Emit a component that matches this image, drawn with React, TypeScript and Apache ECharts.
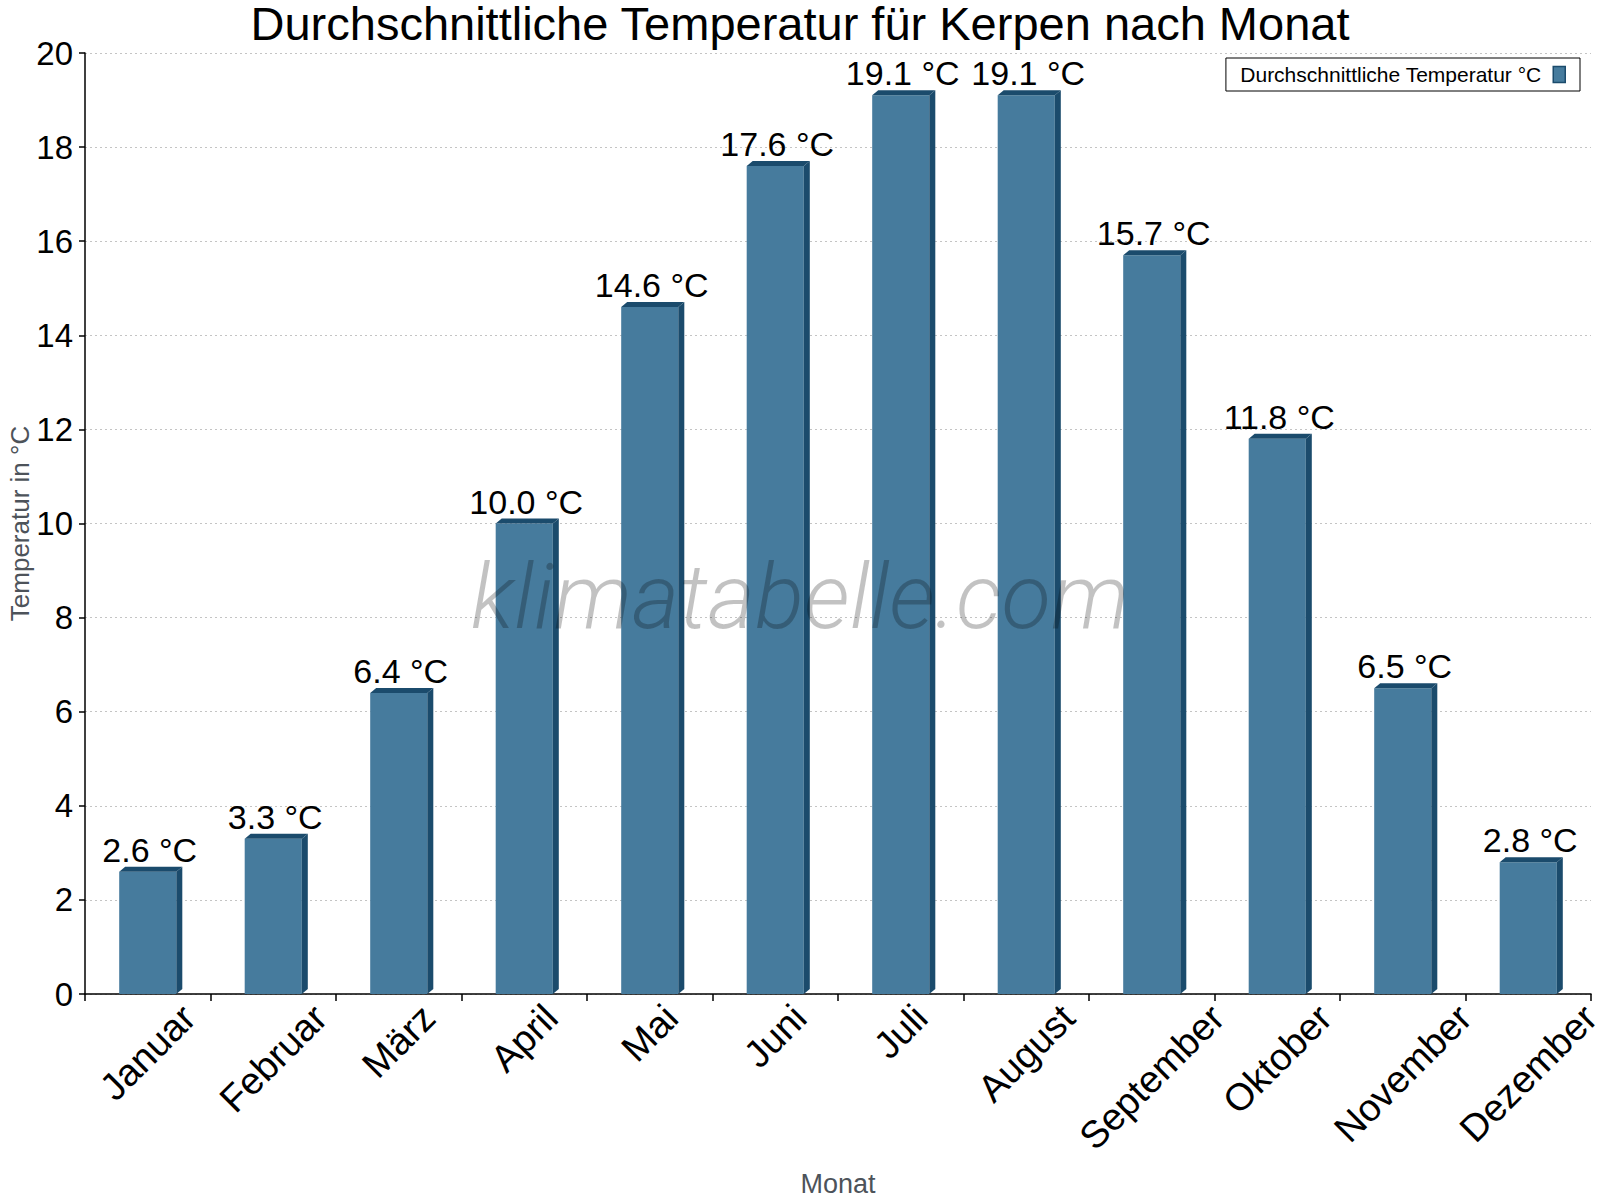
import { useEffect, useRef } from "react";
import * as echarts from "echarts";

const months = [
  "Januar", "Februar", "März", "April", "Mai", "Juni",
  "Juli", "August", "September", "Oktober", "November", "Dezember",
];
const temps = [2.6, 3.3, 6.4, 10.0, 14.6, 17.6, 19.1, 19.1, 15.7, 11.8, 6.5, 2.8];
const seriesName = "Durchschnittliche Temperatur °C";

const FONT = '"Liberation Sans", Arial, sans-serif';
const FRONT = "#467b9d";
const DARK = "#1b4b6c";
const DEPTH = 6;
const RISE = 5;
const MONTH_PX = 38;
const MONTH_TOP = 4; // gap between axis line and the top of the rotated month names

// width of each month name, so the rotated names can hang centred under their bar
function monthWidths(): number[] {
  const ctx = document.createElement("canvas").getContext("2d");
  if (!ctx) return months.map((m) => m.length * MONTH_PX * 0.55);
  ctx.font = `${MONTH_PX}px "Liberation Sans"`;
  return months.map((m) => ctx.measureText(m).width);
}

export default function App() {
  const ref = useRef<HTMLDivElement>(null);

  useEffect(() => {
    document.body.style.margin = "0";
    if (!ref.current) return;
    const chart = echarts.init(ref.current, null, { renderer: "svg" });
    const widths = monthWidths();

    chart.setOption({
      animation: false,
      backgroundColor: "#fff",
      title: {
        text: "Durchschnittliche Temperatur für Kerpen nach Monat",
        left: "center",
        top: 0,
        padding: 0,
        textStyle: { fontSize: 47, fontWeight: "normal", fontFamily: FONT, color: "#000" },
      },
      legend: {
        right: 20,
        top: 58,
        align: "right",
        itemWidth: 12,
        itemHeight: 16,
        borderColor: "#000",
        borderWidth: 1,
        backgroundColor: "#fff",
        padding: [6, 14, 6, 14],
        textStyle: { fontSize: 21, fontFamily: FONT, color: "#000", padding: [0, 7, 0, 0] },
        data: [
          {
            name: seriesName,
            icon: "rect",
            itemStyle: { color: FRONT, borderColor: DARK, borderWidth: 1.5 },
          },
        ],
      },
      grid: { left: 85, right: 9, top: 53, bottom: 206, outerBoundsMode: "none", containLabel: false },
      xAxis: {
        type: "category",
        data: months,
        name: "Monat",
        nameLocation: "middle",
        nameGap: 176,
        nameMoveOverlap: false,
        nameTextStyle: { fontSize: 27, fontFamily: FONT, color: "#4d535a", verticalAlign: "top" },
        axisLine: { lineStyle: { color: "#000", width: 1.5 } },
        axisTick: { show: true, length: 7, lineStyle: { color: "#000", width: 1.5 } },
        axisLabel: { show: false },
        splitLine: { show: false },
      },
      yAxis: {
        type: "value",
        min: 0,
        max: 20,
        interval: 2,
        name: "Temperatur in °C",
        nameLocation: "middle",
        nameRotate: 90,
        nameGap: 52,
        nameMoveOverlap: false,
        nameTextStyle: { fontSize: 26, fontFamily: FONT, color: "#4d535a" },
        axisLine: { show: true, lineStyle: { color: "#000", width: 1.5 } },
        axisTick: { show: true, length: 6, lineStyle: { color: "#000", width: 1.5 } },
        axisLabel: { fontSize: 33, fontFamily: FONT, color: "#000", margin: 12 },
        splitLine: { lineStyle: { color: "#c4c4c4", type: [2, 3], width: 1 } },
      },
      graphic: [
        {
          type: "text",
          left: "center",
          top: 551,
          z: 100,
          silent: true,
          style: {
            text: "klimatabelle.com",
            font: "italic 300 91px Roboto",
            fill: "rgba(0,0,0,0.24)",
          },
        },
      ],
      series: [
        {
          name: seriesName,
          type: "custom",
          itemStyle: { color: FRONT },
          encode: { x: 0, y: 1 },
          data: temps.map((v, i) => [i, v]),
          renderItem: (_params: any, api: any) => {
            const v = api.value(1);
            const top = api.coord([api.value(0), v]);
            const base = api.coord([api.value(0), 0]);
            const band = api.size([1, 0])[0];
            const w = band * 0.455;
            const cx = top[0];
            const l = cx - w / 2;
            const r = cx + w / 2;
            const t = top[1];
            const b = base[1];
            return {
              type: "group",
              children: [
                { type: "rect", shape: { x: l, y: t, width: w, height: b - t }, style: { fill: FRONT } },
                {
                  type: "polygon",
                  shape: { points: [[l, t], [l + DEPTH, t - RISE], [r + DEPTH, t - RISE], [r, t]] },
                  style: { fill: DARK },
                },
                {
                  type: "polygon",
                  shape: { points: [[r, t], [r + DEPTH, t - RISE], [r + DEPTH, b - RISE], [r, b]] },
                  style: { fill: DARK },
                },
                {
                  type: "text",
                  style: {
                    text: `${v.toFixed(1)} °C`,
                    x: cx + 2,
                    y: t - RISE,
                    align: "center",
                    verticalAlign: "bottom",
                    fill: "#000",
                    fontSize: 34,
                    fontFamily: FONT,
                  },
                },
              ],
            };
          },
        },
        {
          // month names, rotated 45° with their bounding box centred under each category
          name: "monthLabels",
          type: "custom",
          silent: true,
          encode: { x: 0, y: 1 },
          data: months.map((_m, i) => [i, 0]),
          renderItem: (params: any, api: any) => {
            const i = params.dataIndex;
            const p = api.coord([api.value(0), 0]);
            const half = (widths[i] + MONTH_PX) * Math.SQRT1_2 / 2;
            return {
              type: "text",
              x: p[0],
              y: p[1] + MONTH_TOP + half,
              rotation: Math.PI / 4,
              style: {
                text: months[i],
                align: "center",
                verticalAlign: "middle",
                fill: "#000",
                fontSize: MONTH_PX,
                fontFamily: FONT,
              },
            };
          },
        },
      ],
    });

    return () => chart.dispose();
  }, []);

  return <div ref={ref} style={{ width: 1600, height: 1200 }} />;
}
